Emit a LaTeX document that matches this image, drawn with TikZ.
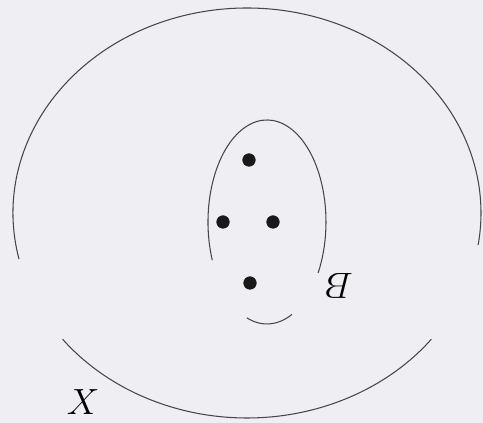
\documentclass[tikz,border=0pt]{standalone}
\usepackage{amsmath}
\usepackage{tikz}
\usetikzlibrary{positioning}
\definecolor{paper}{RGB}{239,239,243}
\definecolor{ink}{RGB}{70,70,74}
\tikzset{
  pt/.style={circle,draw=black!90,fill=black!90,minimum size=2.5mm,inner sep=0pt},
  bd/.style={draw=ink,line width=.6pt},
  lb/.style={font=\fontsize{20}{22}\selectfont},
}

\begin{document}
\begin{tikzpicture}
  \fill[paper] (0,0) rectangle (9.66,8.46);
  \useasboundingbox (0,0) rectangle (9.66,8.46);
% ============================= X
  \coordinate (cX) at (4.94,4.20);
  \draw[bd] (cX) ++(193:4.68cm and 4.10cm)
    arc[start angle=193,end angle=-9,x radius=4.68cm,y radius=4.10cm];
  \draw[bd] (cX) ++(218:4.68cm and 4.10cm)
    arc[start angle=218,end angle=322,x radius=4.68cm,y radius=4.10cm];
  \node[lb] (lX) at (1.66,0.42) {$X$};
% ============================= B
  \coordinate (cB) at (5.34,4.02);
  \draw[bd] (cB) ++(202:1.18cm and 2.04cm)
    arc[start angle=202,end angle=-30,x radius=1.18cm,y radius=2.04cm];
  \draw[bd] (cB) ++(250:1.18cm and 2.04cm)
    arc[start angle=250,end angle=295,x radius=1.18cm,y radius=2.04cm];
  \node[lb,rotate=180] (lB) at (6.78,2.74) {$B$};
% ============================= points
  \node[pt] (d1) at (4.98,5.26) {};
  \node[pt] (d2) at (4.46,4.02) {};
  \node[pt] (d3) at (5.46,4.02) {};
  \node[pt] (d4) at (5.00,2.80) {};
\end{tikzpicture}
\end{document}
